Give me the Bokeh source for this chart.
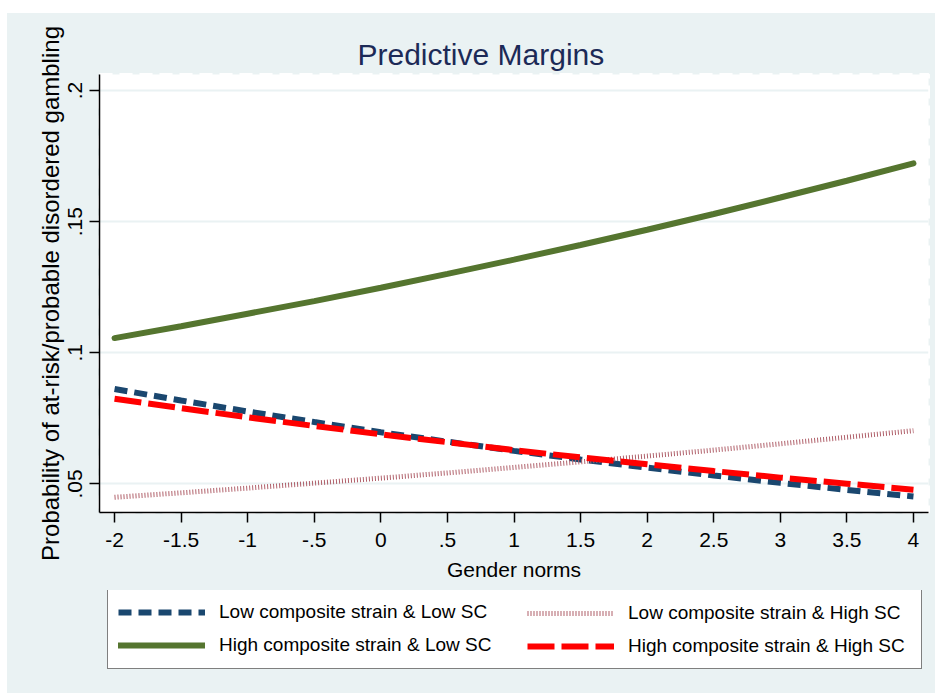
from bokeh.plotting import figure
from bokeh.models import Range1d, FixedTicker, Legend, LegendItem, Title, Spacer
from bokeh.layouts import column, row
from bokeh.embed import file_html
from bokeh.resources import INLINE

# ---------------- data ----------------
gender_norms = [-2, -1.5, -1, -0.5, 0, 0.5, 1, 1.5, 2, 2.5, 3, 3.5, 4]
low_strain_low_sc = [0.0862, 0.0818, 0.0776, 0.0736, 0.0697, 0.0661, 0.0626,
                     0.0593, 0.0562, 0.0532, 0.0504, 0.0477, 0.0452]
high_strain_low_sc = [0.1056, 0.1101, 0.1149, 0.1197, 0.1248, 0.1301, 0.1355,
                      0.1411, 0.1469, 0.1529, 0.1592, 0.1656, 0.1722]
low_strain_high_sc = [0.0449, 0.0466, 0.0484, 0.0503, 0.0522, 0.0542, 0.0563,
                      0.0584, 0.0606, 0.0629, 0.0653, 0.0678, 0.0703]
high_strain_high_sc = [0.0825, 0.0789, 0.0754, 0.0721, 0.0689, 0.0659, 0.0629,
                       0.0601, 0.0575, 0.0549, 0.0524, 0.0501, 0.0478]
series_names = ["Low composite strain & Low SC",
                "High composite strain & Low SC",
                "Low composite strain & High SC",
                "High composite strain & High SC"]
x_ticks = [-2, -1.5, -1, -0.5, 0, 0.5, 1, 1.5, 2, 2.5, 3, 3.5, 4]
x_tick_labels = ["-2", "-1.5", "-1", "-.5", "0", ".5", "1", "1.5", "2",
                 "2.5", "3", "3.5", "4"]
y_ticks = [0.05, 0.1, 0.15, 0.2]
y_tick_labels = [".05", ".1", ".15", ".2"]
title_text = "Predictive Margins"
x_title = "Gender norms"
y_title = "Probability of at-risk/probable disordered gambling"

# ---------------- styling ----------------
BG = "#EAF2F3"
FONT = "Liberation Sans"
NAVY, GREEN, PINK, RED = "#1A476F", "#55752F", "#B0606A", "#FF0000"
styles = [dict(line_color=NAVY, line_width=6, line_dash="13 7"),
          dict(line_color=GREEN, line_width=6, line_cap="round"),
          dict(line_color=PINK, line_width=5, line_dash="1 2"),
          dict(line_color=RED, line_width=6, line_dash="27 7")]
series = [low_strain_low_sc, high_strain_low_sc, low_strain_high_sc,
          high_strain_high_sc]

p = figure(width=928, height=577, output_backend="svg", toolbar_location=None,
           x_range=Range1d(-2.113, 4.113), y_range=Range1d(0.0391, 0.2061),
           min_border_left=92, min_border_right=7, min_border_top=61,
           min_border_bottom=78,
           background_fill_color="white", border_fill_color=BG,
           outline_line_color="white", outline_line_width=3,
           outline_line_dash="13 7")
p.title = Title(text=title_text, align="left", offset=258,
                text_font_size="30px", text_font=FONT,
                text_font_style="normal", text_color="#1C2A57", standoff=8)

for ax in (p.xaxis[0], p.yaxis[0]):
    ax.axis_line_color = "black"
    ax.axis_line_width = 1.5
    ax.major_tick_line_color = "black"
    ax.major_tick_line_width = 1.5
    ax.major_tick_in = 0
    ax.major_tick_out = 10
    ax.minor_tick_line_color = None
    ax.major_label_text_font = FONT
    ax.major_label_text_font_size = "21px"
    ax.major_label_text_color = "black"
    ax.axis_label_text_font = FONT
    ax.axis_label_text_font_style = "normal"
    ax.axis_label_text_color = "black"

p.xaxis.ticker = FixedTicker(ticks=x_ticks)
p.xaxis.major_label_overrides = dict(zip(x_ticks, x_tick_labels))
p.xaxis.axis_label = x_title
p.xaxis.axis_label_text_font_size = "21px"
p.xaxis.major_label_standoff = 10
p.xaxis.axis_label_standoff = 8

p.yaxis.ticker = FixedTicker(ticks=y_ticks)
p.yaxis.major_label_overrides = dict(zip(y_ticks, y_tick_labels))
p.yaxis.major_label_orientation = "vertical"
p.yaxis.axis_label = y_title
p.yaxis.axis_label_text_font_size = "24px"
p.yaxis.major_label_standoff = 7
p.yaxis.axis_label_standoff = 2

p.xgrid.grid_line_color = None
p.ygrid.grid_line_color = BG
p.ygrid.grid_line_width = 2

for ys, st in zip(series, styles):
    p.line(gender_norms, ys, **st)

# ---------------- legend strip (separate figure below) ----------------
# its frame is aligned with the main frame by the column layout
pl = figure(width=928, height=103, output_backend="svg", toolbar_location=None,
            x_axis_type=None, y_axis_type=None,
            x_range=Range1d(-2.113, 4.113), y_range=Range1d(10, 11),
            min_border_left=92, min_border_right=7, min_border_top=0,
            min_border_bottom=0,
            background_fill_alpha=0, border_fill_color=BG,
            outline_line_color=None)
pl.xgrid.grid_line_color = None
pl.ygrid.grid_line_color = None
# same series drawn out of view; used only as legend glyph sources
leg_r = [pl.line(gender_norms, ys, **st) for ys, st in zip(series, styles)]

common = dict(orientation="vertical", padding=10, spacing=7, glyph_width=87,
              glyph_height=26, label_height=26, label_standoff=14,
              label_text_font_size="19px", label_text_font=FONT,
              label_text_color="black", margin=0)
legA = Legend(items=[LegendItem(label=series_names[0], renderers=[leg_r[0]]),
                     LegendItem(label=series_names[1], renderers=[leg_r[1]])],
              location=(8, 24), label_width=692,
              border_line_color="black", border_line_width=1.5,
              background_fill_color="white", background_fill_alpha=1.0,
              **common)
legB = Legend(items=[LegendItem(label=series_names[2], renderers=[leg_r[2]]),
                     LegendItem(label=series_names[3], renderers=[leg_r[3]])],
              location=(418, 24),
              border_line_alpha=0, background_fill_alpha=0,
              **common)
pl.add_layout(legA, "center")
pl.add_layout(legB, "center")

inner = column(p, pl, spacing=0, styles={"background-color": BG})
layout = column(Spacer(height=13),
                row(Spacer(width=7), inner, spacing=0),
                spacing=0)

open("out.html", "w").write(file_html(layout, INLINE))
